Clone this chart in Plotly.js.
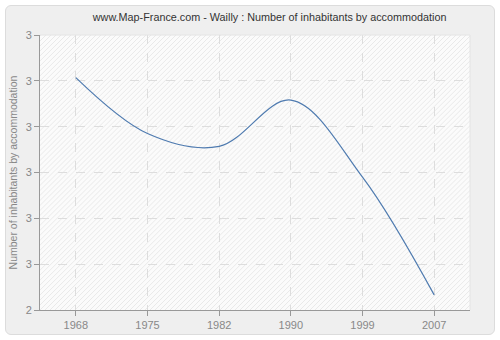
<!DOCTYPE html>
<html>
<head>
<meta charset="utf-8">
<script src="https://cdn.plot.ly/plotly-3.0.1.min.js"></script>
<style>
  html, body { margin: 0; padding: 0; background: #ffffff; }
  #frame { position: absolute; left: 5px; top: 5px; width: 488px; height: 328px;
           border: 1px solid #dcdcdc; border-radius: 6px; background: #efefef; }
  #chart { position: absolute; left: 0; top: 0; width: 500px; height: 340px; }
</style>
</head>
<body>
<div id="frame"></div>
<div id="chart"></div>
<script>
const years = ['1968', '1975', '1982', '1990', '1999', '2007'];
const inhabitantsPerHome = [2.907, 2.785, 2.757, 2.858, 2.690, 2.433];
const yTickValues = [2.4, 2.5, 2.6, 2.7, 2.8, 2.9, 3.0];
const yTickLabels = ['2', '3', '3', '3', '3', '3', '3'];

// light diagonal hatch for the plot area
let lines = '';
for (let i = -300; i < 460; i += 5) {
  lines += `<line x1="${i}" y1="276" x2="${i + 276}" y2="0" stroke="#e9e9e9" stroke-width="1"/>`;
}
const hatch = 'data:image/svg+xml;utf8,' + encodeURIComponent(
  `<svg xmlns="http://www.w3.org/2000/svg" width="430" height="276"><rect width="430" height="276" fill="#fbfbfb"/>${lines}</svg>`);

const FONT = 'Liberation Sans, Arial, sans-serif';

const trace = {
  x: years,
  y: inhabitantsPerHome,
  type: 'scatter',
  mode: 'lines',
  line: { color: '#4f7bb0', width: 1.2, shape: 'spline', smoothing: 1 },
  hoverinfo: 'skip'
};

const layout = {
  width: 500, height: 340,
  margin: { l: 40, r: 30, t: 34.5, b: 30 },
  paper_bgcolor: 'rgba(0,0,0,0)',
  plot_bgcolor: '#fbfbfb',
  showlegend: false,
  font: { family: FONT, size: 11, color: '#888888' },
  title: {
    text: 'www.Map-France.com - Wailly : Number of inhabitants by accommodation',
    font: { family: FONT, size: 10.8, color: '#333333' },
    x: 0.534, xanchor: 'center', xref: 'paper', y: 0.95, yanchor: 'middle', yref: 'container'
  },
  xaxis: {
    type: 'category',
    range: [-0.5, 5.5],
    showline: true, linecolor: '#999999', linewidth: 1,
    ticks: 'outside', ticklen: 5, tickcolor: '#999999',
    showgrid: true, gridcolor: '#dddddd', griddash: 'dash', gridwidth: 1,
    tickfont: { family: FONT, size: 11, color: '#888888' },
    zeroline: false, mirror: false
  },
  yaxis: {
    range: [2.4, 3.0],
    tickvals: yTickValues,
    ticktext: yTickLabels,
    showline: true, linecolor: '#999999', linewidth: 1,
    ticks: 'outside', ticklen: 5, tickcolor: '#999999',
    showgrid: true, gridcolor: '#dddddd', griddash: 'dash', gridwidth: 1,
    tickfont: { family: FONT, size: 11, color: '#888888' },
    title: { text: 'Number of inhabitants by accommodation', font: { family: FONT, size: 10.5, color: '#888888' }, standoff: 5 },
    zeroline: false
  },
  images: [{
    source: hatch, xref: 'paper', yref: 'paper', x: 0, y: 1, sizex: 1, sizey: 1,
    sizing: 'stretch', layer: 'below', xanchor: 'left', yanchor: 'top'
  }],
  shapes: [
    { type: 'line', xref: 'paper', yref: 'paper', x0: 0, x1: 1, y0: 1, y1: 1, line: { color: '#e4e4e4', width: 1 } },
    { type: 'line', xref: 'paper', yref: 'paper', x0: 1, x1: 1, y0: 0, y1: 1, line: { color: '#e4e4e4', width: 1 } }
  ]
};

Plotly.newPlot('chart', [trace], layout, { displayModeBar: false, staticPlot: true });
</script>
</body>
</html>
